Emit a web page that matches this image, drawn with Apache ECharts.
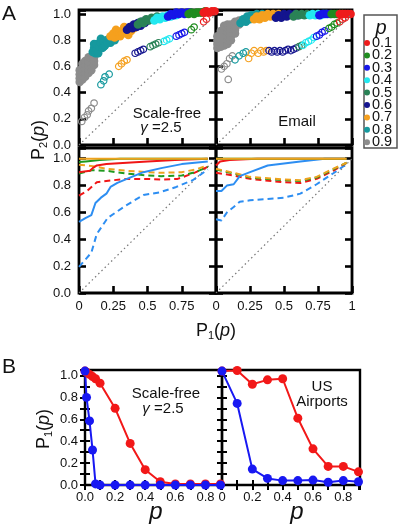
<!DOCTYPE html>
<html>
<head>
<meta charset="utf-8">
<script src="https://cdn.jsdelivr.net/npm/echarts@6/dist/echarts.min.js"></script>
<style>
html,body{margin:0;padding:0;background:#fff}
#main{width:399px;height:526px}
</style>
</head>
<body>
<div id="main"></div>
<script>
// p levels for the legend of panel A
var pLevels = ['0.1', '0.2', '0.3', '0.4', '0.5', '0.6', '0.7', '0.8', '0.9'];
var pColors = ['#ee1c1c', '#1f8c1f', '#1515e8', '#22e8f0', '#2a8256', '#14148e', '#f5a01e', '#16999e', '#8c8c8c'];

// A, top left (scale-free): filled dots (upper branch), one list per p
var sfUpper = [
  [[0.91,1.01],[0.93,1.02],[0.95,1.01],[0.97,1.02],[0.99,1.02]],
  [[0.80,1.0],[0.82,1.01],[0.84,1.0],[0.86,1.01],[0.88,1.01],[0.90,1.01],[0.92,1.02]],
  [[0.65,0.98],[0.67,1.0],[0.69,0.99],[0.71,1.01],[0.73,1.0],[0.75,1.01],[0.77,1.0],[0.79,1.01],[0.81,1.01]],
  [[0.55,0.95],[0.57,0.97],[0.59,0.96],[0.61,0.98],[0.63,0.97],[0.65,0.99],[0.67,0.98],[0.69,0.99],[0.71,0.99],[0.73,1.0]],
  [[0.43,0.92],[0.45,0.94],[0.47,0.93],[0.49,0.96],[0.51,0.95],[0.53,0.97],[0.55,0.96],[0.57,0.98],[0.59,0.97]],
  [[0.35,0.88],[0.37,0.90],[0.39,0.89],[0.40,0.92],[0.42,0.90],[0.43,0.93],[0.45,0.91],[0.46,0.94],[0.48,0.93],[0.50,0.95]],
  [[0.23,0.83],[0.25,0.85],[0.26,0.82],[0.27,0.88],[0.28,0.86],[0.29,0.84],[0.30,0.83],[0.31,0.87],[0.32,0.85],[0.33,0.90],[0.34,0.88],[0.35,0.86],[0.36,0.84],[0.37,0.89],[0.38,0.87],[0.40,0.89]],
  [[0.10,0.71],[0.11,0.74],[0.11,0.77],[0.12,0.70],[0.13,0.73],[0.13,0.77],[0.14,0.70],[0.15,0.75],[0.16,0.78],[0.16,0.81],[0.17,0.74],[0.18,0.75],[0.18,0.79],[0.19,0.76],[0.20,0.80],[0.21,0.78],[0.22,0.81],[0.23,0.78],[0.24,0.80],[0.25,0.83],[0.26,0.80],[0.27,0.82],[0.28,0.84]],
  [[0.005,0.48],[0.005,0.51],[0.005,0.54],[0.005,0.57],[0.025,0.50],[0.025,0.53],[0.025,0.56],[0.025,0.59],[0.025,0.62],
   [0.045,0.52],[0.045,0.55],[0.045,0.58],[0.045,0.61],[0.045,0.64],[0.07,0.55],[0.07,0.58],[0.07,0.61],[0.07,0.64],[0.07,0.67],
   [0.09,0.57],[0.09,0.60],[0.09,0.63],[0.09,0.66],[0.11,0.61],[0.11,0.64],[0.11,0.67]]
];
// A, top left: open circles (lower branch)
var sfLower = [
  [[0.91,0.94],[0.93,0.96]],
  [[0.82,0.88],[0.84,0.90]],
  [[0.71,0.83],[0.73,0.84],[0.75,0.85],[0.77,0.86]],
  [[0.62,0.79],[0.64,0.80],[0.66,0.81]],
  [[0.52,0.75],[0.54,0.76],[0.56,0.77],[0.58,0.78]],
  [[0.41,0.70],[0.43,0.71],[0.45,0.72],[0.47,0.73]],
  [[0.29,0.60],[0.31,0.62],[0.33,0.64],[0.35,0.65]],
  [[0.16,0.46],[0.18,0.49],[0.19,0.52],[0.22,0.54]],
  [[0.02,0.18],[0.04,0.21],[0.06,0.23],[0.07,0.26],[0.09,0.28],[0.11,0.32]]
];
// A, top right (Email): filled dots
var emUpper = [
  [[0.91,1.0],[0.93,1.0],[0.95,1.0],[0.97,1.0],[0.99,1.0]],
  [[0.85,1.0],[0.87,1.0],[0.89,1.0],[0.91,1.0],[0.93,1.0]],
  [[0.76,0.99],[0.78,1.0],[0.80,1.0],[0.82,1.0],[0.84,1.0]],
  [[0.69,0.99],[0.71,1.0],[0.73,0.99],[0.75,1.0],[0.77,0.99],[0.79,1.0],[0.81,1.0]],
  [[0.57,0.98],[0.59,1.0],[0.61,0.99],[0.63,1.0],[0.65,0.99],[0.67,1.0]],
  [[0.44,0.97],[0.46,0.99],[0.48,0.97],[0.50,1.0],[0.52,0.98],[0.54,1.0],[0.56,0.99],[0.58,1.0],[0.60,0.99]],
  [[0.28,0.96],[0.30,0.98],[0.32,0.96],[0.34,0.99],[0.36,0.97],[0.38,1.0],[0.40,0.98],[0.42,1.0],[0.44,0.98],[0.46,1.0],[0.48,0.99]],
  [[0.18,0.93],[0.20,0.96],[0.22,0.94],[0.23,0.98],[0.25,0.96],[0.26,0.99],[0.28,0.97],[0.30,1.0],[0.32,0.98],[0.34,1.0],[0.36,0.99]],
  [[0.01,0.74],[0.01,0.77],[0.01,0.80],[0.01,0.83],[0.035,0.75],[0.035,0.78],[0.035,0.81],[0.035,0.84],[0.035,0.87],
   [0.06,0.76],[0.06,0.79],[0.06,0.82],[0.06,0.85],[0.06,0.88],[0.06,0.91],[0.085,0.77],[0.085,0.80],[0.085,0.83],[0.085,0.86],[0.085,0.89],[0.085,0.92],
   [0.11,0.80],[0.11,0.83],[0.11,0.86],[0.11,0.89],[0.11,0.92],[0.14,0.85],[0.14,0.88],[0.14,0.91],[0.14,0.94],[0.17,0.92],[0.17,0.95]]
];
// A, top right: open circles
var emLower = [
  [[0.91,0.94],[0.93,0.96],[0.95,0.97]],
  [[0.83,0.89],[0.85,0.90],[0.87,0.92],[0.89,0.93]],
  [[0.74,0.83],[0.76,0.84],[0.78,0.86],[0.80,0.87]],
  [[0.64,0.76],[0.66,0.78],[0.68,0.79],[0.70,0.80],[0.72,0.82]],
  [[0.61,0.75],[0.63,0.76]],
  [[0.39,0.72],[0.41,0.71],[0.43,0.72],[0.45,0.71],[0.47,0.72],[0.49,0.71],[0.51,0.72],[0.53,0.73],[0.55,0.72],[0.57,0.73],[0.59,0.74]],
  [[0.24,0.66],[0.26,0.70],[0.28,0.72],[0.31,0.70],[0.33,0.72],[0.35,0.71],[0.37,0.72]],
  [[0.14,0.65],[0.17,0.68],[0.20,0.70],[0.22,0.71]],
  [[0.04,0.58],[0.06,0.60],[0.08,0.62],[0.10,0.66],[0.12,0.68],[0.09,0.50]]
];

// A, bottom left (scale-free) curves
var sfOrangeSolid = [[0,1.0],[0.25,1.0],[0.5,1.0],[0.75,1.0],[0.94,1.0]];
var sfGreenSolid = [[0,0.975],[0.05,0.98],[0.15,0.99],[0.3,1.0],[0.94,1.0]];
var sfRedSolid = [[0,0.90],[0.08,0.91],[0.1,0.93],[0.13,0.95],[0.2,0.96],[0.35,0.97],[0.5,0.98],[0.7,0.99],[0.94,1.0]];
var sfOrangeDash = [[0,0.955],[0.1,0.945],[0.2,0.925],[0.35,0.91],[0.5,0.9],[0.6,0.895],[0.75,0.9],[0.85,0.92],[0.94,0.95]];
var sfGreenDash = [[0,0.89],[0.1,0.915],[0.2,0.91],[0.35,0.89],[0.5,0.875],[0.6,0.87],[0.75,0.875],[0.85,0.9],[0.94,0.94]];
var sfRedDash = [[0,0.725],[0.06,0.76],[0.13,0.825],[0.25,0.84],[0.35,0.85],[0.5,0.85],[0.6,0.845],[0.72,0.85],[0.83,0.89],[0.94,0.94]];
var sfBlueSolid = [[0,0.53],[0.05,0.56],[0.09,0.58],[0.12,0.67],[0.16,0.71],[0.2,0.74],[0.23,0.79],[0.28,0.82],[0.35,0.85],[0.47,0.9],[0.6,0.93],[0.75,0.96],[0.94,0.98]];
var sfBlueDash = [[0,0.195],[0.09,0.3],[0.13,0.44],[0.21,0.56],[0.34,0.65],[0.47,0.73],[0.59,0.75],[0.71,0.79],[0.83,0.84],[0.94,0.92]];

// A, bottom right (Email) curves
var emOrangeSolid = [[0,1.0],[0.25,1.0],[0.5,1.0],[0.75,1.0],[0.96,1.0]];
var emGreenSolid = [[0,1.0],[0.5,1.0],[0.96,1.0]];
var emRedSolid = [[0,0.95],[0.03,0.98],[0.1,0.99],[0.3,1.0],[0.96,1.0]];
var emOrangeDash = [[0,0.925],[0.13,0.895],[0.25,0.865],[0.5,0.845],[0.62,0.84],[0.74,0.865],[0.86,0.925],[0.96,0.97]];
var emGreenDash = [[0,0.92],[0.13,0.89],[0.25,0.86],[0.5,0.84],[0.62,0.835],[0.74,0.86],[0.86,0.92],[0.96,0.97]];
var emRedDash = [[0,0.895],[0.13,0.875],[0.25,0.85],[0.5,0.825],[0.62,0.82],[0.74,0.85],[0.86,0.91],[0.96,0.97]];
var emBlueSolid = [[0,0.76],[0.04,0.76],[0.08,0.8],[0.13,0.81],[0.175,0.87],[0.25,0.9],[0.38,0.95],[0.5,0.965],[0.62,0.98],[0.8,1.0],[0.96,1.0]];
var emBlueDash = [[0,0.55],[0.04,0.54],[0.08,0.6],[0.13,0.64],[0.175,0.68],[0.25,0.69],[0.38,0.7],[0.5,0.71],[0.62,0.74],[0.74,0.81],[0.86,0.89],[0.96,0.96]];

// B: P1(p) against p
var sfRed = [[0,1.04],[0.01,1.03],[0.03,1.01],[0.05,0.99],[0.07,0.97],[0.1,0.93],[0.2,0.70],[0.3,0.38],[0.4,0.14],[0.5,0.03],[0.6,0.01],[0.7,0.01],[0.8,0.01],[0.9,0.01]];
var sfBlue = [[0,1.04],[0.01,0.80],[0.03,0.585],[0.05,0.32],[0.07,0.01],[0.1,0],[0.2,0],[0.3,0],[0.4,0],[0.5,0],[0.6,0],[0.7,0],[0.8,0],[0.9,0]];
var usRed = [[0,1.04],[0.1,1.045],[0.2,0.92],[0.3,0.96],[0.4,0.97],[0.5,0.61],[0.6,0.33],[0.7,0.17],[0.8,0.17],[0.9,0.12]];
var usBlue = [[0,1.04],[0.1,0.745],[0.2,0.145],[0.3,0.06],[0.4,0.04],[0.5,0.04],[0.6,0.045],[0.7,0.025],[0.8,0.04],[0.9,0.03]];

var FONT = '"Liberation Sans", Arial, sans-serif';
var RED = '#f01616', GREEN = '#1f9a1f', ORANGE = '#eea21e', BLUE = '#2d8ef2';

var chart = echarts.init(document.getElementById('main'));

var grids = [
  {left: 79, top: 10, width: 137, height: 135},
  {left: 216, top: 10, width: 136, height: 135},
  {left: 79, top: 148, width: 137, height: 145},
  {left: 216, top: 148, width: 136, height: 145},
  {left: 85, top: 370, width: 137, height: 115},
  {left: 222, top: 370, width: 138, height: 115}
];
grids.forEach(function (g, i) {
  g.show = true;
  g.borderColor = '#000';
  g.borderWidth = i < 4 ? 2.8 : 2.4;
  g.backgroundColor = 'transparent';
});

function isStep(v, step) {
  var k = v / step;
  return Math.abs(k - Math.round(k)) < 1e-6;
}
var labelStyle = {fontFamily: FONT, fontSize: 13, color: '#111'};

function axis(gi, opt) {
  var big = gi < 4;
  return Object.assign({
    type: 'value', gridIndex: gi,
    axisLine: {show: false},
    splitLine: {show: false},
    axisTick: {show: true, inside: true, length: big ? 7 : 5, lineStyle: {color: '#000', width: big ? 2.6 : 2}},
    axisLabel: {show: false}
  }, opt);
}

var xAxes = [], yAxes = [];
// A panels
[0, 1, 2, 3].forEach(function (gi) {
  var bottomRow = gi >= 2;
  xAxes.push(axis(gi, {
    min: 0, max: 1, interval: 0.25,
    axisLabel: bottomRow ? Object.assign({
      show: true, margin: 7,
      formatter: function (v) {
        if (v === 0) return '0';
        if (v === 1) return gi === 3 ? '1' : '';
        return String(v);
      }
    }, labelStyle) : {show: false}
  }));
  var ymax = bottomRow ? 1.08 : 1.03;
  yAxes.push(axis(gi, {
    min: 0, max: ymax, interval: 0.2,
    axisLabel: (gi === 0 || gi === 2) ? Object.assign({
      show: true, margin: 8,
      formatter: function (v) { return isStep(v, 0.2) ? v.toFixed(1) : ''; }
    }, labelStyle) : {show: false}
  }));
});
// B panels
[4, 5].forEach(function (gi) {
  xAxes.push(axis(gi, {
    min: 0, max: 0.91, interval: 0.1,
    axisLabel: Object.assign({
      show: true, margin: 6,
      formatter: function (v) {
        if (!isStep(v, 0.2)) return '';
        if (v === 0) return gi === 4 ? '0.0' : '0';
        return v.toFixed(1);
      }
    }, labelStyle)
  }));
  yAxes.push(axis(gi, {
    min: 0, max: 1.05, interval: 0.1,
    axisLabel: gi === 4 ? Object.assign({
      show: true, margin: 7,
      formatter: function (v) { return isStep(v, 0.2) ? v.toFixed(1) : ''; }
    }, labelStyle) : {show: false}
  }));
});
// mirrored ticks on right sides
[0, 1, 2, 3, 4, 5].forEach(function (gi) {
  var bottomRow = gi === 2 || gi === 3;
  yAxes.push(axis(gi, {
    position: 'right',
    min: 0, max: gi >= 4 ? 1.05 : (bottomRow ? 1.08 : 1.03),
    interval: gi >= 4 ? 0.1 : 0.2
  }));
});
// ticks along the top of the B panels
[4, 5].forEach(function (gi) {
  xAxes.push(axis(gi, {position: 'top', min: 0, max: 0.91, interval: 0.1}));
});

var series = [];
// diagonal reference lines
[0, 1, 2, 3].forEach(function (gi) {
  series.push({
    type: 'line', xAxisIndex: gi, yAxisIndex: gi, silent: true,
    data: [[0, 0], [1, 1]], symbol: 'none',
    lineStyle: {type: [1.5, 3], color: '#777', width: 1.2}
  });
});
// scatter clouds
function addScatter(gi, upper, lower) {
  for (var i = pLevels.length - 1; i >= 0; i--) {
    series.push({
      type: 'scatter', name: pLevels[i], xAxisIndex: gi, yAxisIndex: gi,
      data: upper[i], symbolSize: 8.5, silent: true,
      itemStyle: {color: pColors[i], opacity: 1}
    });
  }
  for (var j = pLevels.length - 1; j >= 0; j--) {
    series.push({
      type: 'scatter', name: pLevels[j] + ' open', xAxisIndex: gi, yAxisIndex: gi,
      data: lower[j], symbolSize: 6.5, silent: true,
      itemStyle: {color: 'rgba(255,255,255,0)', borderColor: pColors[j], borderWidth: 1.2, opacity: 1}
    });
  }
}
addScatter(0, sfUpper, sfLower);
addScatter(1, emUpper, emLower);

function curve(gi, data, color, dashed) {
  series.push({
    type: 'line', xAxisIndex: gi, yAxisIndex: gi, data: data, symbol: 'none', silent: true,
    lineStyle: {color: color, width: 2, type: dashed ? [6, 4] : 'solid'}
  });
}
curve(2, sfBlueDash, BLUE, true);
curve(2, sfRedDash, RED, true);
curve(2, sfGreenDash, GREEN, true);
curve(2, sfOrangeDash, ORANGE, true);
curve(2, sfBlueSolid, BLUE, false);
curve(2, sfRedSolid, RED, false);
curve(2, sfGreenSolid, GREEN, false);
curve(2, sfOrangeSolid, ORANGE, false);
curve(3, emBlueDash, BLUE, true);
curve(3, emRedDash, RED, true);
curve(3, emGreenDash, GREEN, true);
curve(3, emOrangeDash, ORANGE, true);
curve(3, emBlueSolid, BLUE, false);
curve(3, emRedSolid, RED, false);
curve(3, emGreenSolid, GREEN, false);
curve(3, emOrangeSolid, ORANGE, false);

function bLine(gi, data, color) {
  series.push({
    type: 'line', xAxisIndex: gi, yAxisIndex: gi, data: data, clip: false, silent: true,
    symbol: 'circle', symbolSize: 9, showSymbol: true,
    itemStyle: {color: color}, lineStyle: {color: color, width: 2}
  });
}
bLine(4, sfRed, '#f21818');
bLine(4, sfBlue, '#1818f2');
bLine(5, usRed, '#f21818');
bLine(5, usBlue, '#1818f2');

function txt(x, y, text, size, extra) {
  return Object.assign({
    type: 'text', x: x, y: y, z: 10,
    style: Object.assign({text: text, fill: '#111', fontFamily: FONT, fontSize: size, align: 'center', verticalAlign: 'middle'}, extra || {})
  });
}
var pRich = {
  a: {fontFamily: FONT, fontSize: 18, fill: '#111'},
  s: {fontFamily: FONT, fontSize: 11, fill: '#111', padding: [9, 0, 0, 0]},
  i: {fontFamily: FONT, fontSize: 18, fontStyle: 'italic', fill: '#111'}
};
var gRich = {
  g: {fontFamily: FONT, fontSize: 15, fontStyle: 'italic', fill: '#111'},
  t: {fontFamily: FONT, fontSize: 15, fill: '#111'}
};

var graphics = [
  txt(9, 14, 'A', 21),
  txt(9, 367, 'B', 21),
  txt(167, 114, 'Scale-free', 15),
  txt(161, 128, '{g|γ}{t| =2.5}', 15, {rich: gRich}),
  txt(297, 122, 'Email', 15),
  txt(166, 394, 'Scale-free', 15),
  txt(163, 409, '{g|γ}{t| =2.5}', 15, {rich: gRich}),
  txt(322, 387, 'US', 15),
  txt(322, 402, 'Airports', 15),
  txt(216, 331, '{a|P}{s|1}{a|(}{i|p}{a|)}', 18, {rich: pRich}),
  Object.assign(txt(39, 140, '{a|P}{s|2}{a|(}{i|p}{a|)}', 18, {rich: pRich}), {rotation: Math.PI / 2}),
  Object.assign(txt(44, 429, '{a|P}{s|1}{a|(}{i|p}{a|)}', 18, {rich: pRich}), {rotation: Math.PI / 2}),
  txt(156, 512, 'p', 24, {fontStyle: 'italic'}),
  txt(297, 512, 'p', 24, {fontStyle: 'italic'}),
  {type: 'rect', shape: {x: 364, y: 15, width: 33, height: 133}, style: {fill: 'none', stroke: '#555', lineWidth: 1.5}, z: 1},
  txt(381, 28, 'p', 20, {fontStyle: 'italic'})
];

chart.setOption({
  animation: false,
  textStyle: {fontFamily: FONT},
  grid: grids,
  xAxis: xAxes,
  yAxis: yAxes,
  legend: {
    orient: 'vertical', left: 364, top: 35.5, z: 5, padding: 0,
    itemWidth: 6, itemHeight: 6, itemGap: -2.6, icon: 'circle', selectedMode: false,
    textStyle: {fontFamily: FONT, fontSize: 14.5, color: '#111', padding: [0, 0, 0, -3]},
    data: pLevels
  },
  graphic: graphics,
  series: series
});
window.addEventListener('resize', function () { chart.resize(); });
</script>
</body>
</html>
